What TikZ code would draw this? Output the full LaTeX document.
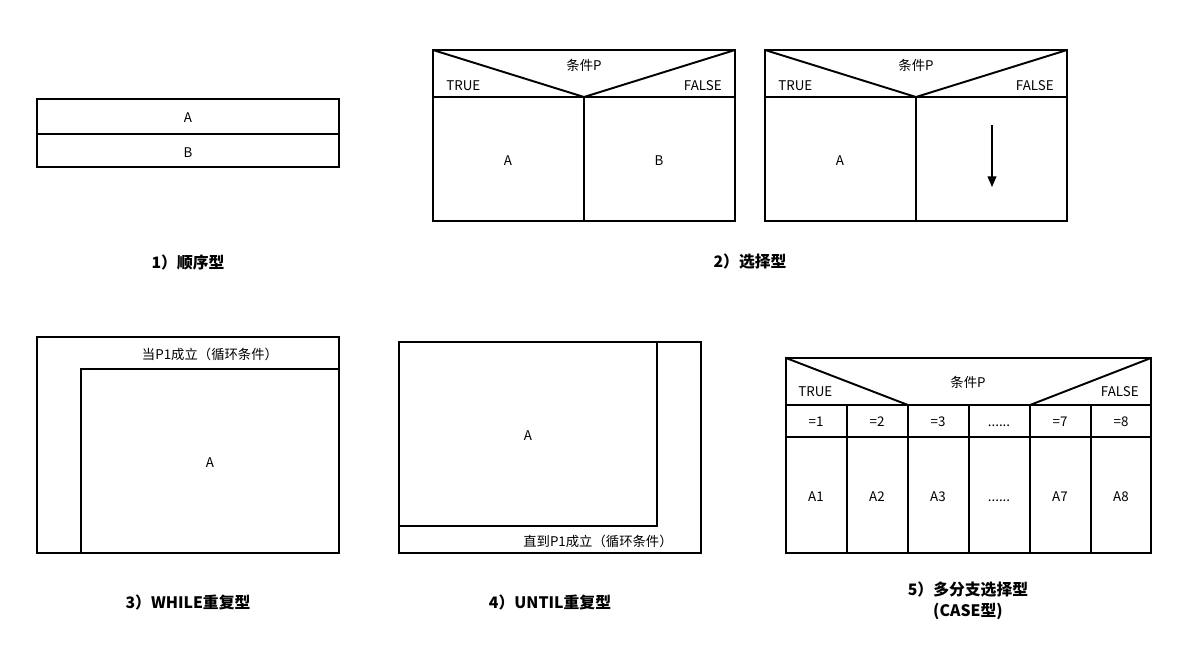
\documentclass[tikz,border=0pt]{standalone}
\usepackage{fontspec}
\setmainfont{Noto Sans CJK SC}
\usetikzlibrary{arrows.meta}
\newcommand{\gapdots}{......}

\begin{document}
\begin{tikzpicture}[
  x=0.02cm, y=-0.02cm,
  box/.style={line width=1.1pt, line join=miter},
  lbl/.style={font=\fontsize{7.6}{9}\selectfont, inner sep=0pt, text height=0.72em, text depth=0.12em},
  titletext/.style={font=\fontsize{9}{12}\selectfont\bfseries, align=center, inner sep=0pt},
  flow/.style={-{Triangle[length=6pt,width=5pt]}, line width=0.6pt}
]
\useasboundingbox (0,0) rectangle (1188,647);

% 1) sequence
\draw[box] (37,99) rectangle (339,167);
\draw[box] (37,134) -- (339,134);
\node[lbl] (seqa) at (188,117) {A};
\node[lbl] (seqb) at (188,152) {B};
\node[titletext] (cap1) at (188,262) {1）顺序型};

% 2) selection, two branches
\draw[box] (433,50) rectangle (735,221);
\draw[box] (433,97) -- (735,97);
\draw[box] (433,50) -- (584,97) -- (735,50);
\draw[box] (584,97) -- (584,221);
\node[lbl] (cond1) at (584,65) {条件P};
\node[lbl, anchor=west] (true1) at (446,85) {TRUE};
\node[lbl, anchor=east] (false1) at (722,85) {FALSE};
\node[lbl] (sela) at (508,160) {A};
\node[lbl] (selb) at (659,160) {B};

% 2) selection, empty false branch
\draw[box] (765,50) rectangle (1067,221);
\draw[box] (765,97) -- (1067,97);
\draw[box] (765,50) -- (916,97) -- (1067,50);
\draw[box] (916,97) -- (916,221);
\node[lbl] (cond2) at (916,65) {条件P};
\node[lbl, anchor=west] (true2) at (778,85) {TRUE};
\node[lbl, anchor=east] (false2) at (1054,85) {FALSE};
\node[lbl] (sel2a) at (840,160) {A};
\coordinate (skiptop) at (992,125);
\coordinate (skipbot) at (992,187);
\draw[flow] (skiptop) -- (skipbot);
\node[titletext] (cap2) at (750,262) {2）选择型};

% 3) WHILE
\draw[box] (37,337) rectangle (339,553);
\draw[box] (339,369) -- (81,369) -- (81,553);
\node[lbl] (whilecond) at (210,354) {当P1成立（循环条件）};
\node[lbl] (whilea) at (210,462) {A};
\node[titletext] (cap3) at (188,602) {3）WHILE重复型};

% 4) UNTIL
\draw[box] (399,342) rectangle (701,553);
\draw[box] (399,526) -- (657,526) -- (657,342);
\node[lbl] (untila) at (528,435) {A};
\node[lbl] (untilcond) at (598,541) {直到P1成立（循环条件）};
\node[titletext] (cap4) at (550,602) {4）UNTIL重复型};

% 5) CASE
\draw[box] (786,358) rectangle (1151,553);
\draw[box] (786,405) -- (1151,405);
\draw[box] (786,437) -- (1151,437);
\draw[box] (786,358) -- (908,405);
\draw[box] (1030,405) -- (1151,358);
\foreach \x in {847,908,969,1030,1091}
  \draw[box] (\x,405) -- (\x,553);
\node[lbl] (cond5) at (968,382) {条件P};
\node[lbl, anchor=west] (true5) at (798,391) {TRUE};
\node[lbl, anchor=east] (false5) at (1139,391) {FALSE};
\foreach \x/\v/\a [count=\i] in {816/=1/A1, 877/=2/A2, 938/=3/A3, 999/\gapdots/\gapdots, 1060/=7/A7, 1121/=8/A8} {
  \node[lbl] (val\i) at (\x,421) {\v};
  \node[lbl] (act\i) at (\x,496) {\a};
}
\node[titletext] (cap5) at (968,601) {5）多分支选择型\\(CASE型)};
\end{tikzpicture}
\end{document}
